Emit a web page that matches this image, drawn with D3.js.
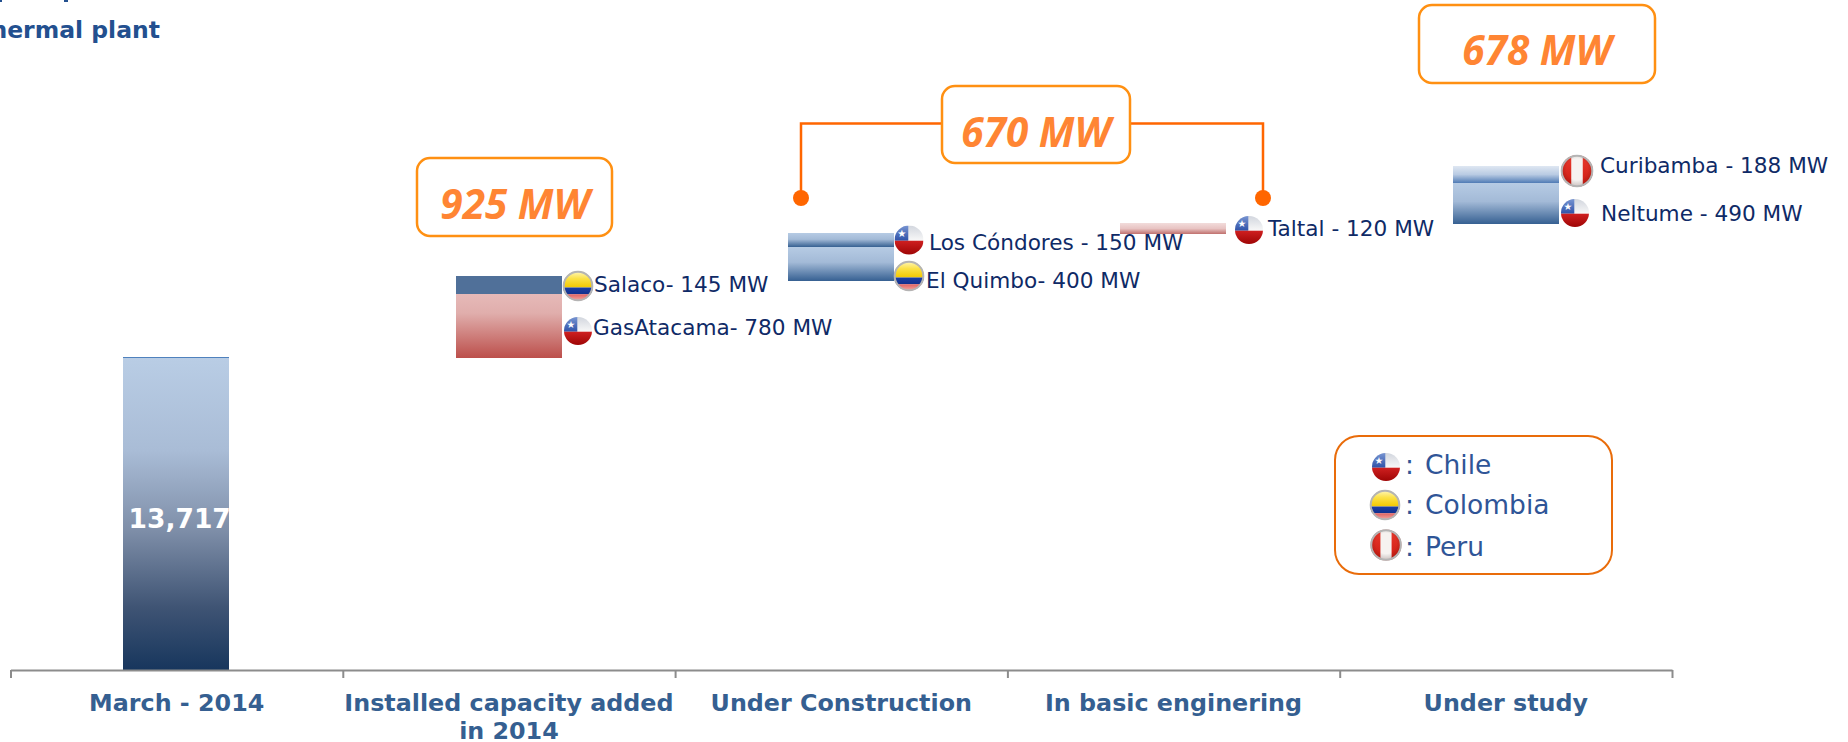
<!DOCTYPE html>
<html><head><meta charset="utf-8">
<script src="https://cdnjs.cloudflare.com/ajax/libs/d3/7.8.5/d3.min.js"></script>
<style>html,body{margin:0;padding:0;background:#fff;overflow:hidden}svg{display:block}</style>
</head><body><svg id="c" width="1848" height="742"></svg>
<script>
// ---- data ----
const categories = ["March - 2014","Installed capacity added in 2014","Under Construction","In basic enginering","Under study"];
const baseValue = 13717;
const axisBreakTop = 15965;                 // top of the drawn (broken) value axis
const segCategory = [1,1,2,2,3,4,4];
const segNames   = ["GasAtacama","Salaco","El Quimbo","Los Cóndores","Taltal","Neltume","Curibamba"];
const segMW      = [780,145,400,150,120,490,188];
const segLow     = [13690,14459,14612,15012,15165,15282,15765];
const segHigh    = [14459,14670,15012,15177,15294,15765,15965];
const segCountry = ["Chile","Colombia","Colombia","Chile","Chile","Chile","Peru"];
const segFill    = ["red","flatBlue","blue","blue","paleRed","blue","paleBlue"];
const segLabels  = ["GasAtacama- 780 MW","Salaco- 145 MW","El Quimbo- 400 MW","Los Cóndores - 150 MW","Taltal - 120 MW","Neltume - 490 MW","Curibamba - 188 MW"];
const totals = ["925 MW","670 MW","678 MW"];
const legendCountries = ["Chile","Colombia","Peru"];

// ---- layout ----
const svg = d3.select("#c"), defs = svg.append("defs");
const axisY = 670, left = 10.5, right = 1672;
const x = d3.scaleBand().domain(categories).range([left,right]).paddingInner(0.68).paddingOuter(0.34);
const y = d3.scaleLinear().domain([0,baseValue,axisBreakTop]).range([axisY,357,166]);
const tickPos = d3.scaleLinear().domain([0,categories.length]).range([left,right]);

const font = "'DejaVu Sans',Verdana,sans-serif";
const calloutFont = "'Open Sans',sans-serif";

function grad(id,stops){
  const g = defs.append("linearGradient").attr("id",id).attr("x1",0).attr("y1",0).attr("x2",0).attr("y2",1);
  stops.forEach(([o,c])=>g.append("stop").attr("offset",o).attr("stop-color",c));
}
grad("base",[[0,"#b9cde5"],[0.3,"#a9bcd6"],[0.55,"#7f8fa9"],[0.8,"#3f5474"],[1,"#17365d"]]);
grad("blue",[[0,"#b6cbe4"],[0.45,"#a3bad7"],[1,"#366092"]]);
grad("red",[[0,"#e6b9b8"],[0.3,"#e0aeac"],[1,"#bc4f4b"]]);
grad("paleRed",[[0,"#f2dcdb"],[0.5,"#e8c4c3"],[1,"#c0706d"]]);
grad("paleBlue",[[0,"#dfe7f2"],[0.5,"#b9cbe3"],[1,"#4f7bb5"]]);
grad("flatBlue",[[0,"#507099"],[1,"#507099"]]);
grad("yel",[[0,"#fff7c0"],[0.45,"#fbe24a"],[1,"#f3c800"]]);
grad("blu",[[0,"#1c3fa6"],[1,"#12308c"]]);
grad("rdc",[[0,"#e06060"],[1,"#f4b0a8"]]);
grad("chR",[[0,"#cf2020"],[1,"#9c0404"]]);
grad("chW",[[0,"#d2d6de"],[1,"#f8f8f8"]]);
grad("chB",[[0,"#7794d2"],[1,"#2f52a8"]]);
grad("pe",[[0,"#ea3a2e"],[1,"#cc1a10"]]);
const vig = defs.append("radialGradient").attr("id","vig").attr("cx","50%").attr("cy","45%").attr("r","55%");
[[0.6,"rgba(0,0,0,0)"],[1,"rgba(60,0,0,.22)"]].forEach(([o,c])=>vig.append("stop").attr("offset",o).attr("stop-color",c));

let clipN = 0;
function flag(country,cx,cy,r){
  const id = "fc"+(clipN++);
  defs.append("clipPath").attr("id",id).append("circle").attr("cx",cx).attr("cy",cy).attr("r",r);
  const g = svg.append("g").attr("clip-path",`url(#${id})`);
  const R = (a,b,c,d,f)=>g.append("rect").attr("x",a).attr("y",b).attr("width",c).attr("height",d).attr("fill",f);
  if(country==="Chile"){
    R(cx-r,cy-r,2*r,r*1.05,"url(#chW)");
    R(cx-r,cy-r,r*0.95,r*1.05,"url(#chB)");
    R(cx-r,cy+r*0.05,2*r,r,"url(#chR)");
    g.append("text").attr("x",cx-r*0.5).attr("y",cy-r*0.22).attr("text-anchor","middle")
      .attr("font-size",r*0.7).attr("fill","#fff").attr("font-family",font).text("★");
  } else if(country==="Colombia"){
    R(cx-r,cy-r,2*r,r*1.1,"url(#yel)");
    R(cx-r,cy+r*0.1,2*r,r*0.45,"url(#blu)");
    R(cx-r,cy+r*0.55,2*r,r*0.45,"url(#rdc)");
  } else {
    R(cx-r,cy-r,2*r,2*r,"url(#pe)");
    R(cx-r*0.36,cy-r,r*0.72,2*r,"#f6f2f0");
    g.append("circle").attr("cx",cx).attr("cy",cy).attr("r",r).attr("fill","url(#vig)");
  }
  if(country!=="Chile")
    svg.append("circle").attr("cx",cx).attr("cy",cy).attr("r",r-0.7).attr("fill","none").attr("stroke","#b4b4b4").attr("stroke-width",2);
}

// base bar
const cat0 = categories[0];
svg.append("rect").attr("x",Math.round(x(cat0))).attr("y",y(baseValue)).attr("width",Math.round(x.bandwidth()))
  .attr("height",y(0)-y(baseValue)).attr("fill","url(#base)");
svg.append("line").attr("x1",Math.round(x(cat0))).attr("x2",Math.round(x(cat0))+Math.round(x.bandwidth()))
  .attr("y1",y(baseValue)+0.5).attr("y2",y(baseValue)+0.5).attr("stroke","#4f81bd").attr("stroke-width",1);
svg.append("text").attr("x",x(cat0)+x.bandwidth()/2+3).attr("y",528).attr("text-anchor","middle")
  .attr("font-family",font).attr("font-weight","bold").attr("font-size",26.5).attr("fill","#fff")
  .text(d3.format(",")(baseValue));

// stacked segments
segLow.forEach((lo,i)=>{
  const c = categories[segCategory[i]];
  const top = Math.round(y(segHigh[i])), bot = Math.round(y(lo));
  svg.append("rect").attr("x",Math.round(x(c))).attr("y",top).attr("width",Math.round(x.bandwidth()))
    .attr("height",bot-top).attr("fill",`url(#${segFill[i]})`);
});

// flag + label placement, same order as the segments
const flagPos  = [[578,331,14],[578,286,15],[909,276,15],[909,240,14.5],[1249,230,14],[1575,213,14],[1577,171,16]];
const labelPos = [[593,335],[594,292],[926,288],[929,250],[1268,236],[1601,221],[1600,173]];
segLabels.forEach((t,i)=>{
  flag(segCountry[i],...flagPos[i]);
  svg.append("text").attr("x",labelPos[i][0]).attr("y",labelPos[i][1])
    .attr("font-family",font).attr("font-size",21.6).attr("fill","#0f2a66").text(t);
});

// bracket for 670 MW
svg.append("path").attr("d","M801,198V123.5H1263V198").attr("fill","none").attr("stroke","#ff6600").attr("stroke-width",2.5);
[801,1263].forEach(cx=>svg.append("circle").attr("cx",cx).attr("cy",198).attr("r",8).attr("fill","#ff6600"));

// callouts
const boxes = [[417,158,195,78,515,219],[942,86,188,77,1036,147],[1419,5,236,78,1537,65]];
totals.forEach((t,i)=>{
  const b = boxes[i];
  svg.append("rect").attr("x",b[0]).attr("y",b[1]).attr("width",b[2]).attr("height",b[3]).attr("rx",13)
    .attr("fill","#fff").attr("stroke","#ff9012").attr("stroke-width",2.5);
  svg.append("text").attr("x",b[4]).attr("y",b[5]).attr("text-anchor","middle")
    .attr("font-family",calloutFont).attr("font-weight","bold").attr("font-style","italic")
    .attr("font-size",40.5).attr("fill","#ff8533").text(t);
});

// legend
svg.append("rect").attr("x",1335).attr("y",436).attr("width",277).attr("height",138).attr("rx",24)
  .attr("fill","#fff").attr("stroke","#e96c0a").attr("stroke-width",2);
const legY = [474,514,556], legF=[[1386,467,14],[1385,505,15],[1386,545,15.5]];
legendCountries.forEach((n,i)=>{
  flag(n,...legF[i]);
  svg.append("text").attr("x",1405).attr("y",legY[i]).attr("font-family",font).attr("font-size",26.5)
    .attr("fill","#2f5597").text(":");
  svg.append("text").attr("x",1425).attr("y",legY[i]).attr("font-family",font).attr("font-size",26.5)
    .attr("fill","#2f5597").text(n);
});

// axis
const ax = svg.append("g").attr("transform",`translate(0,${axisY})`)
  .call(d3.axisBottom(tickPos).tickValues(d3.range(categories.length+1)).tickSize(8).tickSizeOuter(0).tickFormat(""));
ax.selectAll("path,line").attr("stroke","#8c8c8c").attr("stroke-width",2);

// category labels
const labelLines = [["March - 2014"],["Installed capacity added","in 2014"],["Under Construction"],["In basic enginering"],["Under study"]];
categories.forEach((c,i)=>{
  const t = svg.append("text").attr("text-anchor","middle").attr("font-family",font)
    .attr("font-weight","bold").attr("font-size",23.8).attr("fill","#355f91");
  labelLines[i].forEach((l,k)=>t.append("tspan").attr("x",x(c)+x.bandwidth()/2).attr("y",711+k*28).text(l));
});

// title fragment, cut by the picture's left edge as in the reference
svg.append("text").attr("x",160).attr("y",38).attr("text-anchor","end").attr("font-family",font)
  .attr("font-weight","bold").attr("font-size",23.5).attr("fill","#23508f").text("Thermal plant");
// descender remnants of the title line above, cut by the top edge
[[0,2],[64,4]].forEach(([a,w])=>svg.append("rect").attr("x",a).attr("y",0).attr("width",w).attr("height",2).attr("fill","#23508f"));
</script></body></html>
